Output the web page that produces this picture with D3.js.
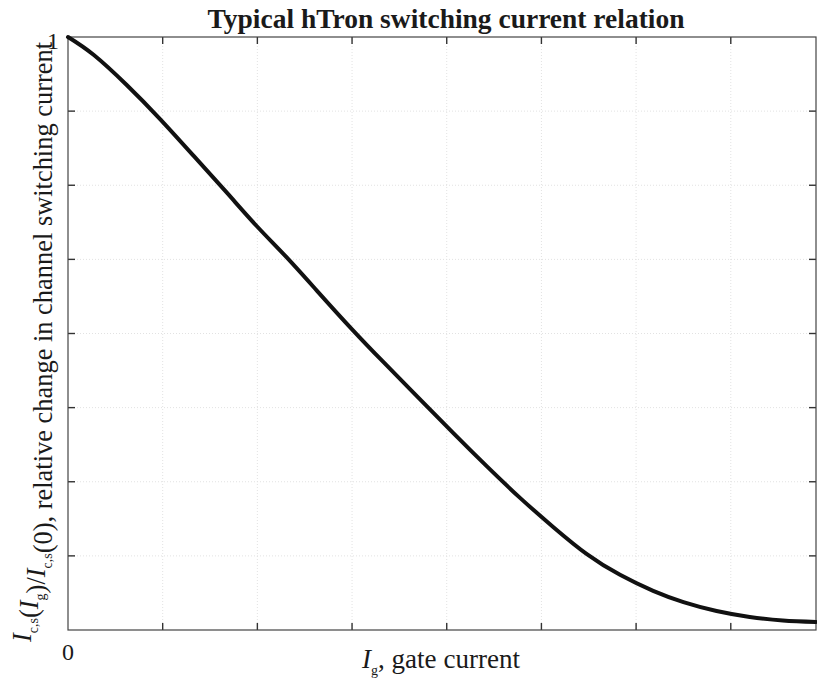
<!DOCTYPE html>
<html>
  <head>
    <meta charset="utf-8">
    <script src="https://cdn.jsdelivr.net/npm/d3@7/dist/d3.min.js"></script>
    <style>
      body {
        margin: 0;
        background: #fff;
      }

      text {
        font-family: 'Liberation Serif', 'DejaVu Serif', serif;
        fill: #1a1a1a;
      }

      .title {
        font-weight: bold;
        text-anchor: middle;
      }

      .grid line {
        stroke: #e2e2e2;
        stroke-width: 1px;
        stroke-dasharray: 1 2;
      }

      .frame {
        fill: none;
        stroke: #444;
        stroke-width: 1.2px;
      }

      .tick-mark {
        stroke: #333;
        stroke-width: 1.4px;
      }

      .curve {
        fill: none;
        stroke: #111;
        stroke-width: 4px;
        stroke-linecap: round;
      }
    </style>
  </head>
  <body>
    <script>
      // gate current, in tick units
      const gateCurrent = [0, 0.27, 0.62, 0.97, 1.33, 1.68, 2.0, 2.3, 2.63, 3.0, 3.33, 3.7, 4.07,
        4.43, 4.78, 5.13, 5.48, 5.83, 6.18, 6.5, 6.85, 7.2, 7.55, 7.9];
      // relative switching current Ic,s(Ig)/Ic,s(0)
      const switchingRatio = [1, 0.970, 0.919, 0.862, 0.799, 0.737, 0.68, 0.63, 0.572, 0.507, 0.452, 0.392, 0.332,
        0.275, 0.222, 0.173, 0.128, 0.093, 0.066, 0.047, 0.032, 0.022, 0.016, 0.0135];

      const xTicks = [0, 1, 2, 3, 4, 5, 6, 7];
      const yTicks = [0, 0.125, 0.25, 0.375, 0.5, 0.625, 0.75, 0.875, 1];
      const xTickLabels = { 0: '0' };
      const yTickLabels = { 1: '1' };

      const data = gateCurrent.map((g, i) => ({ g, r: switchingRatio[i] }));

      const width = 817;
      const height = 688;
      const margin = { top: 37, right: 1, bottom: 58, left: 68 };

      const svg = d3.select('body')
        .append('svg')
        .attr('width', width)
        .attr('height', height);

      const xScale = d3.scaleLinear()
        .domain([0, 7.9])
        .range([margin.left, width - margin.right]);

      const yScale = d3.scaleLinear()
        .domain([0, 1])
        .range([height - margin.bottom, margin.top]);

      const plotTop = yScale(1);
      const plotBottom = yScale(0);
      const plotLeft = xScale(0);
      const plotRight = xScale(7.9);

      // shrink or grow a text's font so it spans a given width
      const fitText = (sel, target) => {
        const size = parseFloat(sel.style('font-size'));
        const len = sel.node().getComputedTextLength();
        sel.style('font-size', (size * target / len).toFixed(2) + 'px');
      };

      // faint dotted grid
      const grid = svg.append('g').classed('grid', true);
      grid.selectAll('.gx').data(xTicks.slice(1))
        .enter()
        .append('line')
        .attr('x1', d => xScale(d))
        .attr('x2', d => xScale(d))
        .attr('y1', plotTop)
        .attr('y2', plotBottom);
      grid.selectAll('.gy').data(yTicks.slice(1, -1))
        .enter()
        .append('line')
        .attr('x1', plotLeft)
        .attr('x2', plotRight)
        .attr('y1', d => yScale(d))
        .attr('y2', d => yScale(d));

      // inward ticks on all four sides
      const tickLen = 7;
      const ticks = svg.append('g');
      xTicks.slice(1).forEach(t => {
        ticks.append('line').classed('tick-mark', true)
          .attr('x1', xScale(t)).attr('x2', xScale(t))
          .attr('y1', plotBottom).attr('y2', plotBottom - tickLen);
        ticks.append('line').classed('tick-mark', true)
          .attr('x1', xScale(t)).attr('x2', xScale(t))
          .attr('y1', plotTop).attr('y2', plotTop + tickLen);
      });
      yTicks.slice(1, -1).forEach(t => {
        ticks.append('line').classed('tick-mark', true)
          .attr('x1', plotLeft).attr('x2', plotLeft + tickLen)
          .attr('y1', yScale(t)).attr('y2', yScale(t));
        ticks.append('line').classed('tick-mark', true)
          .attr('x1', plotRight).attr('x2', plotRight - tickLen)
          .attr('y1', yScale(t)).attr('y2', yScale(t));
      });

      svg.append('rect')
        .classed('frame', true)
        .attr('x', plotLeft)
        .attr('y', plotTop)
        .attr('width', plotRight - plotLeft)
        .attr('height', plotBottom - plotTop);

      const line = d3.line()
        .x(d => xScale(d.g))
        .y(d => yScale(d.r))
        .curve(d3.curveNatural);

      svg.append('path')
        .datum(data)
        .classed('curve', true)
        .attr('d', line);

      // tick labels
      Object.keys(xTickLabels).forEach(k => {
        svg.append('text')
          .attr('x', xScale(+k))
          .attr('y', 660)
          .attr('text-anchor', 'middle')
          .style('font-size', '24px')
          .text(xTickLabels[k]);
      });
      Object.keys(yTickLabels).forEach(k => {
        svg.append('text')
          .attr('x', plotLeft - 9)
          .attr('y', yScale(+k) + 12)
          .attr('text-anchor', 'end')
          .style('font-size', '24px')
          .text(yTickLabels[k]);
      });

      const title = svg.append('text')
        .classed('title', true)
        .attr('x', 446)
        .attr('y', 28)
        .style('font-size', '22px')
        .text('Typical hTron switching current relation');
      fitText(title, 477);

      // x axis label
      const xl = svg.append('text')
        .attr('x', 441)
        .attr('y', 668)
        .attr('text-anchor', 'middle')
        .style('font-size', '24px');
      xl.append('tspan').style('font-style', 'italic').text('I');
      xl.append('tspan').attr('dy', 7).style('font-size', '14px').text('g');
      xl.append('tspan').attr('dy', -7).text(', gate current');
      fitText(xl, 159);

      // y axis label
      const yl = svg.append('text')
        .attr('transform', `translate(31, 342) rotate(-90)`)
        .attr('text-anchor', 'middle')
        .style('font-size', '24px');
      const sub = (txt) => {
        yl.append('tspan').attr('dy', 7).style('font-size', '14px').text(txt);
        yl.append('tspan').attr('dy', -7).text('');
      };
      yl.append('tspan').style('font-style', 'italic').text('I');
      sub('c,s');
      yl.append('tspan').text('(');
      yl.append('tspan').style('font-style', 'italic').text('I');
      sub('g');
      yl.append('tspan').text(')/');
      yl.append('tspan').style('font-style', 'italic').text('I');
      sub('c,s');
      yl.append('tspan').text('(0), relative change in channel switching current');
      fitText(yl, 604);
    </script>
  </body>
</html>
